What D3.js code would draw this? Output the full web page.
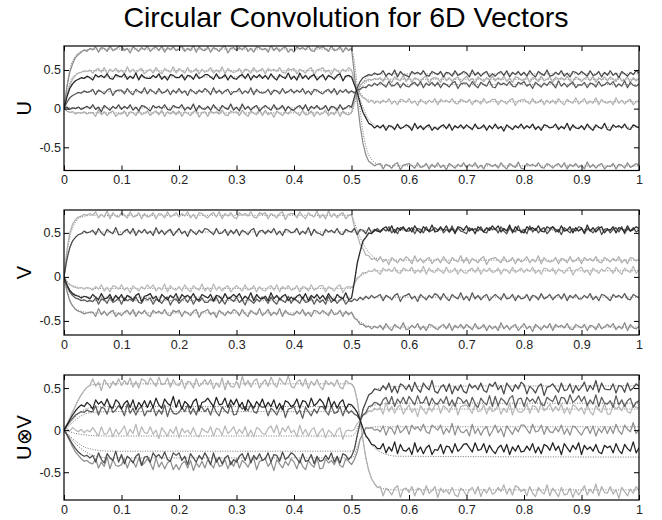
<!DOCTYPE html>
<html>
<head>
<meta charset="utf-8">
<script src="https://cdn.jsdelivr.net/npm/d3@7"></script>
<style>
  body { margin: 0; background: #fff; }
  svg { display: block; }
</style>
</head>
<body>
<script>
/*** Data ***/

// sample times (s), one sample every 0.005
const times = [
  0,0.005,0.01,0.015,0.02,0.025,0.03,0.035,0.04,0.045,
  0.05,0.055,0.06,0.065,0.07,0.075,0.08,0.085,0.09,0.095,
  0.1,0.105,0.11,0.115,0.12,0.125,0.13,0.135,0.14,0.145,
  0.15,0.155,0.16,0.165,0.17,0.175,0.18,0.185,0.19,0.195,
  0.2,0.205,0.21,0.215,0.22,0.225,0.23,0.235,0.24,0.245,
  0.25,0.255,0.26,0.265,0.27,0.275,0.28,0.285,0.29,0.295,
  0.3,0.305,0.31,0.315,0.32,0.325,0.33,0.335,0.34,0.345,
  0.35,0.355,0.36,0.365,0.37,0.375,0.38,0.385,0.39,0.395,
  0.4,0.405,0.41,0.415,0.42,0.425,0.43,0.435,0.44,0.445,
  0.45,0.455,0.46,0.465,0.47,0.475,0.48,0.485,0.49,0.495,
  0.5,0.505,0.51,0.515,0.52,0.525,0.53,0.535,0.54,0.545,
  0.55,0.555,0.56,0.565,0.57,0.575,0.58,0.585,0.59,0.595,
  0.6,0.605,0.61,0.615,0.62,0.625,0.63,0.635,0.64,0.645,
  0.65,0.655,0.66,0.665,0.67,0.675,0.68,0.685,0.69,0.695,
  0.7,0.705,0.71,0.715,0.72,0.725,0.73,0.735,0.74,0.745,
  0.75,0.755,0.76,0.765,0.77,0.775,0.78,0.785,0.79,0.795,
  0.8,0.805,0.81,0.815,0.82,0.825,0.83,0.835,0.84,0.845,
  0.85,0.855,0.86,0.865,0.87,0.875,0.88,0.885,0.89,0.895,
  0.9,0.905,0.91,0.915,0.92,0.925,0.93,0.935,0.94,0.945,
  0.95,0.955,0.96,0.965,0.97,0.975,0.98,0.985,0.99,0.995,
  1
]

// knots of the thin dotted (ideal) curves
const idealTimes = [0, 0.01, 0.02, 0.03, 0.05, 0.08, 0.5, 0.505, 0.51, 0.52, 0.53, 0.55, 0.58, 1]

const xTickValues = [0, 0.1, 0.2, 0.3, 0.4, 0.5, 0.6, 0.7, 0.8, 0.9, 1]
const xTickLabels = ["0", "0.1", "0.2", "0.3", "0.4", "0.5", "0.6", "0.7", "0.8", "0.9", "1"]
const yTickValues = [-0.5, 0, 0.5]
const yTickLabels = ["-0.5", "0", "0.5"]

/* U */
const u1 = [
  0,0.28,0.47,0.58,0.66,0.7,0.73,0.76,0.74,0.78,
  0.76,0.8,0.73,0.79,0.78,0.74,0.81,0.75,0.77,0.8,
  0.81,0.75,0.78,0.72,0.8,0.77,0.74,0.79,0.76,0.81,
  0.74,0.78,0.8,0.75,0.81,0.73,0.79,0.76,0.8,0.75,
  0.77,0.81,0.74,0.78,0.75,0.82,0.73,0.8,0.76,0.75,
  0.8,0.73,0.79,0.77,0.74,0.79,0.81,0.72,0.78,0.79,
  0.75,0.79,0.76,0.81,0.74,0.78,0.73,0.8,0.79,0.76,
  0.78,0.73,0.82,0.75,0.79,0.74,0.78,0.8,0.73,0.77,
  0.73,0.8,0.77,0.79,0.76,0.81,0.75,0.74,0.8,0.78,
  0.8,0.77,0.74,0.81,0.75,0.76,0.8,0.73,0.79,0.75,
  0.78,0.45,0.1,-0.22,-0.45,-0.6,-0.68,-0.71,-0.74,-0.72,
  -0.71,-0.78,-0.72,-0.74,-0.77,-0.72,-0.7,-0.79,-0.73,-0.72,
  -0.71,-0.74,-0.77,-0.7,-0.76,-0.75,-0.71,-0.78,-0.72,-0.76,
  -0.7,-0.76,-0.73,-0.79,-0.71,-0.74,-0.77,-0.72,-0.75,-0.7,
  -0.76,-0.72,-0.75,-0.7,-0.77,-0.73,-0.78,-0.71,-0.72,-0.75,
  -0.72,-0.77,-0.7,-0.75,-0.78,-0.71,-0.74,-0.76,-0.69,-0.77,
  -0.78,-0.71,-0.74,-0.72,-0.75,-0.7,-0.76,-0.77,-0.71,-0.73,
  -0.77,-0.73,-0.71,-0.76,-0.7,-0.78,-0.72,-0.75,-0.71,-0.76,
  -0.73,-0.78,-0.69,-0.76,-0.72,-0.77,-0.73,-0.71,-0.78,-0.74,
  -0.75,-0.71,-0.78,-0.72,-0.73,-0.77,-0.7,-0.76,-0.74,-0.71,
  -0.73
]
const u2 = [
  0,0.18,0.3,0.38,0.43,0.46,0.47,0.49,0.48,0.5,
  0.46,0.5,0.52,0.47,0.53,0.45,0.51,0.48,0.52,0.47,
  0.5,0.45,0.54,0.47,0.51,0.46,0.5,0.52,0.45,0.49,
  0.51,0.46,0.53,0.48,0.45,0.52,0.49,0.47,0.54,0.46,
  0.52,0.49,0.46,0.53,0.47,0.48,0.52,0.45,0.51,0.47,
  0.49,0.53,0.46,0.5,0.47,0.54,0.45,0.52,0.48,0.47,
  0.48,0.52,0.45,0.51,0.5,0.46,0.53,0.47,0.49,0.52,
  0.45,0.52,0.49,0.51,0.48,0.53,0.47,0.46,0.52,0.5,
  0.52,0.45,0.51,0.49,0.46,0.51,0.53,0.44,0.5,0.51,
  0.53,0.47,0.5,0.44,0.52,0.49,0.46,0.51,0.48,0.53,
  0.5,0.36,0.25,0.18,0.14,0.12,0.08,0.11,0.07,0.1,
  0.07,0.11,0.08,0.13,0.06,0.1,0.05,0.12,0.11,0.08,
  0.13,0.07,0.1,0.04,0.12,0.09,0.06,0.11,0.08,0.13,
  0.05,0.12,0.09,0.11,0.08,0.13,0.07,0.06,0.12,0.1,
  0.08,0.12,0.05,0.11,0.1,0.06,0.13,0.07,0.09,0.12,
  0.12,0.05,0.11,0.09,0.06,0.11,0.13,0.04,0.1,0.11,
  0.12,0.09,0.06,0.13,0.07,0.08,0.12,0.05,0.11,0.07,
  0.11,0.06,0.13,0.08,0.05,0.12,0.09,0.07,0.14,0.06,
  0.09,0.13,0.06,0.1,0.07,0.14,0.05,0.12,0.08,0.07,
  0.1,0.05,0.14,0.07,0.11,0.06,0.1,0.12,0.05,0.09,
  0.1
]
const u3 = [
  0,0.15,0.26,0.32,0.36,0.38,0.4,0.39,0.42,0.4,
  0.37,0.44,0.41,0.43,0.4,0.45,0.39,0.38,0.44,0.42,
  0.41,0.45,0.38,0.42,0.39,0.46,0.37,0.44,0.4,0.39,
  0.39,0.43,0.4,0.45,0.38,0.42,0.37,0.44,0.43,0.4,
  0.4,0.44,0.37,0.43,0.42,0.38,0.45,0.39,0.41,0.44,
  0.44,0.41,0.38,0.45,0.39,0.4,0.44,0.37,0.43,0.39,
  0.38,0.42,0.44,0.39,0.45,0.37,0.43,0.4,0.44,0.39,
  0.43,0.38,0.45,0.4,0.37,0.44,0.41,0.39,0.46,0.38,
  0.42,0.37,0.46,0.39,0.43,0.38,0.42,0.44,0.37,0.41,
  0.44,0.37,0.43,0.41,0.38,0.43,0.45,0.36,0.42,0.43,
  0.41,0.31,0.21,0.07,-0.05,-0.12,-0.19,-0.21,-0.25,-0.22,
  -0.25,-0.21,-0.28,-0.22,-0.23,-0.27,-0.2,-0.26,-0.24,-0.21,
  -0.23,-0.28,-0.19,-0.26,-0.22,-0.27,-0.23,-0.21,-0.28,-0.24,
  -0.27,-0.23,-0.21,-0.26,-0.2,-0.28,-0.22,-0.25,-0.21,-0.26,
  -0.21,-0.24,-0.27,-0.2,-0.26,-0.25,-0.21,-0.28,-0.22,-0.26,
  -0.2,-0.26,-0.23,-0.29,-0.21,-0.24,-0.27,-0.22,-0.25,-0.2,
  -0.26,-0.22,-0.25,-0.2,-0.27,-0.23,-0.28,-0.21,-0.22,-0.25,
  -0.24,-0.2,-0.27,-0.23,-0.26,-0.19,-0.28,-0.21,-0.25,-0.26,
  -0.22,-0.27,-0.2,-0.25,-0.28,-0.21,-0.24,-0.26,-0.19,-0.27,
  -0.28,-0.21,-0.24,-0.22,-0.25,-0.2,-0.26,-0.27,-0.21,-0.23,
  -0.25
]
const u4 = [
  0,0.08,0.14,0.17,0.19,0.21,0.2,0.23,0.21,0.22,
  0.25,0.18,0.24,0.22,0.19,0.24,0.26,0.17,0.23,0.24,
  0.24,0.19,0.26,0.21,0.18,0.25,0.22,0.2,0.27,0.19,
  0.25,0.22,0.19,0.26,0.2,0.21,0.25,0.18,0.24,0.2,
  0.26,0.2,0.23,0.17,0.25,0.22,0.19,0.24,0.21,0.26,
  0.23,0.18,0.27,0.2,0.24,0.19,0.23,0.25,0.18,0.22,
  0.22,0.26,0.19,0.23,0.2,0.27,0.18,0.25,0.21,0.2,
  0.21,0.25,0.18,0.24,0.23,0.19,0.26,0.2,0.22,0.25,
  0.2,0.24,0.21,0.26,0.19,0.23,0.18,0.25,0.24,0.21,
  0.19,0.23,0.25,0.2,0.26,0.18,0.24,0.21,0.25,0.2,
  0.23,0.2,0.24,0.25,0.28,0.27,0.31,0.29,0.33,0.3,
  0.34,0.31,0.28,0.35,0.29,0.3,0.34,0.27,0.33,0.29,
  0.28,0.32,0.34,0.29,0.35,0.27,0.33,0.3,0.34,0.29,
  0.34,0.27,0.33,0.31,0.28,0.33,0.35,0.26,0.32,0.33,
  0.33,0.28,0.35,0.3,0.27,0.34,0.31,0.29,0.36,0.28,
  0.27,0.34,0.31,0.33,0.3,0.35,0.29,0.28,0.34,0.32,
  0.35,0.29,0.32,0.26,0.34,0.31,0.28,0.33,0.3,0.35,
  0.32,0.27,0.36,0.29,0.33,0.28,0.32,0.34,0.27,0.31,
  0.3,0.34,0.27,0.33,0.32,0.28,0.35,0.29,0.31,0.34,
  0.31,0.35,0.28,0.32,0.29,0.36,0.27,0.34,0.3,0.29,
  0.32
]
const u5 = [
  0,0.02,-0.01,0.01,0,0.02,-0.01,0.01,0.03,0,
  0.05,-0.01,0.02,-0.04,0.04,0.01,-0.02,0.03,0,0.05,
  -0.01,0.03,0,0.05,-0.02,0.02,-0.03,0.04,0.03,0,
  -0.03,0.04,0.01,0.03,0,0.05,-0.01,-0.02,0.04,0.02,
  0.01,0.05,-0.02,0.02,-0.01,0.06,-0.03,0.04,0,-0.01,
  0.03,-0.02,0.05,0,-0.03,0.04,0.01,-0.01,0.06,-0.02,
  0.02,-0.03,0.06,-0.01,0.03,-0.02,0.02,0.04,-0.03,0.01,
  0.04,0.01,-0.02,0.05,-0.01,0,0.04,-0.03,0.03,-0.01,
  -0.02,0.02,0.04,-0.01,0.05,-0.03,0.03,0,0.04,-0.01,
  0,0.04,-0.03,0.03,0.02,-0.02,0.05,-0.01,0.01,0.04,
  0.02,0.15,0.27,0.35,0.4,0.42,0.44,0.43,0.46,0.44,
  0.45,0.49,0.42,0.46,0.43,0.5,0.41,0.48,0.44,0.43,
  0.41,0.48,0.45,0.47,0.44,0.49,0.43,0.42,0.48,0.46,
  0.44,0.48,0.41,0.47,0.46,0.42,0.49,0.43,0.45,0.48,
  0.46,0.41,0.5,0.43,0.47,0.42,0.46,0.48,0.41,0.45,
  0.42,0.46,0.48,0.43,0.49,0.41,0.47,0.44,0.48,0.43,
  0.47,0.42,0.49,0.44,0.41,0.48,0.45,0.43,0.5,0.42,
  0.43,0.47,0.44,0.49,0.42,0.46,0.41,0.48,0.47,0.44,
  0.48,0.45,0.42,0.49,0.43,0.44,0.48,0.41,0.47,0.43,
  0.49,0.43,0.46,0.4,0.48,0.45,0.42,0.47,0.44,0.49,
  0.46
]
const u6 = [
  0,-0.03,-0.05,-0.04,-0.07,-0.05,-0.06,-0.04,-0.07,-0.05,
  -0.05,-0.1,-0.01,-0.08,-0.04,-0.09,-0.05,-0.03,-0.1,-0.06,
  -0.07,-0.03,-0.1,-0.04,-0.05,-0.09,-0.02,-0.08,-0.06,-0.03,
  -0.09,-0.05,-0.03,-0.08,-0.02,-0.1,-0.04,-0.07,-0.03,-0.08,
  -0.03,-0.1,-0.04,-0.06,-0.09,-0.04,-0.02,-0.11,-0.05,-0.04,
  -0.1,-0.03,-0.06,-0.04,-0.07,-0.02,-0.08,-0.09,-0.03,-0.05,
  -0.04,-0.09,-0.02,-0.07,-0.1,-0.03,-0.06,-0.08,-0.01,-0.09,
  -0.02,-0.08,-0.05,-0.11,-0.03,-0.06,-0.09,-0.04,-0.07,-0.02,
  -0.03,-0.06,-0.09,-0.02,-0.08,-0.07,-0.03,-0.1,-0.04,-0.08,
  -0.06,-0.02,-0.09,-0.05,-0.08,-0.01,-0.1,-0.03,-0.07,-0.08,
  -0.05,0.1,0.22,0.3,0.34,0.36,0.38,0.37,0.39,0.38,
  0.4,0.35,0.42,0.37,0.34,0.41,0.38,0.36,0.43,0.35,
  0.41,0.34,0.4,0.38,0.35,0.4,0.42,0.33,0.39,0.4,
  0.39,0.34,0.43,0.36,0.4,0.35,0.39,0.41,0.34,0.38,
  0.42,0.36,0.39,0.33,0.41,0.38,0.35,0.4,0.37,0.42,
  0.36,0.4,0.37,0.42,0.35,0.39,0.34,0.41,0.4,0.37,
  0.37,0.41,0.34,0.4,0.39,0.35,0.42,0.36,0.38,0.41,
  0.34,0.41,0.38,0.4,0.37,0.42,0.36,0.35,0.41,0.39,
  0.35,0.39,0.41,0.36,0.42,0.34,0.4,0.37,0.41,0.36,
  0.41,0.38,0.35,0.42,0.36,0.37,0.41,0.34,0.4,0.36,
  0.39
]
const uIdeal = [
  [0,0.5,0.68,0.74,0.77,0.77,0.77,0.6,0.3,-0.3,-0.6,-0.73,-0.74,-0.74],
  [0,0.33,0.44,0.47,0.49,0.49,0.49,0.38,0.28,0.16,0.11,0.09,0.09,0.09],
  [0,0.27,0.36,0.39,0.41,0.41,0.41,0.33,0.22,0.02,-0.14,-0.23,-0.24,-0.24],
  [0,0.14,0.19,0.21,0.22,0.22,0.22,0.22,0.23,0.27,0.3,0.31,0.31,0.31],
  [0,0.01,0.01,0.01,0.01,0.01,0.01,0.1,0.2,0.34,0.42,0.45,0.45,0.45],
  [0,-0.04,-0.05,-0.055,-0.055,-0.055,-0.055,0.05,0.16,0.3,0.36,0.38,0.38,0.38]
]

/* V */
const v1 = [
  0,0.3,0.5,0.6,0.65,0.68,0.69,0.71,0.7,0.72,
  0.7,0.74,0.67,0.71,0.68,0.75,0.66,0.73,0.69,0.68,
  0.73,0.7,0.67,0.74,0.68,0.69,0.73,0.66,0.72,0.68,
  0.69,0.73,0.66,0.72,0.71,0.67,0.74,0.68,0.7,0.73,
  0.68,0.72,0.69,0.74,0.67,0.71,0.66,0.73,0.72,0.69,
  0.67,0.71,0.73,0.68,0.74,0.66,0.72,0.69,0.73,0.68,
  0.66,0.73,0.7,0.72,0.69,0.74,0.68,0.67,0.73,0.71,
  0.73,0.66,0.72,0.7,0.67,0.72,0.74,0.65,0.71,0.72,
  0.72,0.67,0.74,0.69,0.66,0.73,0.7,0.68,0.75,0.67,
  0.71,0.66,0.75,0.68,0.72,0.67,0.71,0.73,0.66,0.7,
  0.71,0.57,0.48,0.37,0.32,0.25,0.24,0.2,0.21,0.18,
  0.23,0.17,0.2,0.14,0.22,0.19,0.16,0.21,0.18,0.23,
  0.2,0.15,0.24,0.17,0.21,0.16,0.2,0.22,0.15,0.19,
  0.21,0.16,0.23,0.18,0.15,0.22,0.19,0.17,0.24,0.16,
  0.22,0.15,0.21,0.19,0.16,0.21,0.23,0.14,0.2,0.21,
  0.22,0.19,0.16,0.23,0.17,0.18,0.22,0.15,0.21,0.17,
  0.19,0.23,0.16,0.2,0.17,0.24,0.15,0.22,0.18,0.17,
  0.18,0.22,0.15,0.21,0.2,0.16,0.23,0.17,0.19,0.22,
  0.15,0.22,0.19,0.21,0.18,0.23,0.17,0.16,0.22,0.2,
  0.17,0.21,0.18,0.23,0.16,0.2,0.15,0.22,0.21,0.18,
  0.2
]
const v2 = [
  0,0.2,0.33,0.41,0.45,0.48,0.49,0.52,0.5,0.51,
  0.53,0.48,0.55,0.5,0.47,0.54,0.51,0.49,0.56,0.48,
  0.48,0.52,0.54,0.49,0.55,0.47,0.53,0.5,0.54,0.49,
  0.52,0.47,0.56,0.49,0.53,0.48,0.52,0.54,0.47,0.51,
  0.55,0.49,0.52,0.46,0.54,0.51,0.48,0.53,0.5,0.55,
  0.54,0.51,0.48,0.55,0.49,0.5,0.54,0.47,0.53,0.49,
  0.54,0.47,0.53,0.51,0.48,0.53,0.55,0.46,0.52,0.53,
  0.49,0.53,0.5,0.55,0.48,0.52,0.47,0.54,0.53,0.5,
  0.51,0.55,0.48,0.52,0.49,0.56,0.47,0.54,0.5,0.49,
  0.47,0.54,0.51,0.53,0.5,0.55,0.49,0.48,0.54,0.52,
  0.51,0.55,0.48,0.54,0.53,0.49,0.56,0.5,0.52,0.55,
  0.51,0.55,0.52,0.57,0.5,0.54,0.49,0.56,0.55,0.52,
  0.52,0.56,0.49,0.55,0.54,0.5,0.57,0.51,0.53,0.56,
  0.53,0.57,0.5,0.54,0.51,0.58,0.49,0.56,0.52,0.51,
  0.49,0.56,0.53,0.55,0.52,0.57,0.51,0.5,0.56,0.54,
  0.55,0.5,0.57,0.52,0.49,0.56,0.53,0.51,0.58,0.5,
  0.54,0.49,0.58,0.51,0.55,0.5,0.54,0.56,0.49,0.53,
  0.57,0.51,0.54,0.48,0.56,0.53,0.5,0.55,0.52,0.57,
  0.56,0.49,0.55,0.53,0.5,0.55,0.57,0.48,0.54,0.55,
  0.5,0.54,0.56,0.51,0.57,0.49,0.55,0.52,0.56,0.51,
  0.53
]
const v3 = [
  0,-0.06,-0.09,-0.11,-0.12,-0.13,-0.12,-0.14,-0.12,-0.13,
  -0.15,-0.11,-0.14,-0.09,-0.16,-0.12,-0.17,-0.1,-0.11,-0.14,
  -0.09,-0.15,-0.12,-0.18,-0.1,-0.13,-0.16,-0.11,-0.14,-0.09,
  -0.13,-0.09,-0.16,-0.12,-0.15,-0.08,-0.17,-0.1,-0.14,-0.15,
  -0.11,-0.16,-0.09,-0.14,-0.17,-0.1,-0.13,-0.15,-0.08,-0.16,
  -0.12,-0.17,-0.08,-0.15,-0.11,-0.16,-0.12,-0.1,-0.17,-0.13,
  -0.1,-0.13,-0.16,-0.09,-0.15,-0.14,-0.1,-0.17,-0.11,-0.15,
  -0.16,-0.12,-0.1,-0.15,-0.09,-0.17,-0.11,-0.14,-0.1,-0.15,
  -0.14,-0.1,-0.17,-0.11,-0.12,-0.16,-0.09,-0.15,-0.13,-0.1,
  -0.1,-0.17,-0.11,-0.13,-0.16,-0.11,-0.09,-0.18,-0.12,-0.11,
  -0.12,-0.08,-0.01,0.01,0.05,0.04,0.07,0.06,0.09,0.06,
  0.03,0.1,0.07,0.09,0.06,0.11,0.05,0.04,0.1,0.08,
  0.07,0.11,0.04,0.08,0.05,0.12,0.03,0.1,0.06,0.05,
  0.1,0.07,0.04,0.11,0.05,0.06,0.1,0.03,0.09,0.05,
  0.04,0.08,0.1,0.05,0.11,0.03,0.09,0.06,0.1,0.05,
  0.06,0.1,0.03,0.09,0.08,0.04,0.11,0.05,0.07,0.1,
  0.05,0.09,0.06,0.11,0.04,0.08,0.03,0.1,0.09,0.06,
  0.1,0.03,0.09,0.07,0.04,0.09,0.11,0.02,0.08,0.09,
  0.11,0.05,0.08,0.02,0.1,0.07,0.04,0.09,0.06,0.11,
  0.09,0.04,0.11,0.06,0.03,0.1,0.07,0.05,0.12,0.04,
  0.08
]
const v4 = [
  0,-0.09,-0.15,-0.19,-0.21,-0.22,-0.24,-0.22,-0.23,-0.25,
  -0.2,-0.23,-0.26,-0.19,-0.25,-0.24,-0.2,-0.27,-0.21,-0.25,
  -0.2,-0.27,-0.21,-0.23,-0.26,-0.21,-0.19,-0.28,-0.22,-0.21,
  -0.19,-0.25,-0.22,-0.28,-0.2,-0.23,-0.26,-0.21,-0.24,-0.19,
  -0.27,-0.2,-0.23,-0.21,-0.24,-0.19,-0.25,-0.26,-0.2,-0.22,
  -0.24,-0.2,-0.27,-0.21,-0.22,-0.26,-0.19,-0.25,-0.23,-0.2,
  -0.23,-0.19,-0.26,-0.22,-0.25,-0.18,-0.27,-0.2,-0.24,-0.25,
  -0.22,-0.27,-0.18,-0.25,-0.21,-0.26,-0.22,-0.2,-0.27,-0.23,
  -0.26,-0.22,-0.2,-0.25,-0.19,-0.27,-0.21,-0.24,-0.2,-0.25,
  -0.21,-0.26,-0.19,-0.24,-0.27,-0.2,-0.23,-0.25,-0.18,-0.26,
  -0.24,-0.06,0.16,0.29,0.41,0.45,0.5,0.49,0.54,0.52,
  0.51,0.55,0.57,0.52,0.58,0.5,0.56,0.53,0.57,0.52,
  0.56,0.51,0.58,0.53,0.5,0.57,0.54,0.52,0.59,0.51,
  0.52,0.56,0.53,0.58,0.51,0.55,0.5,0.57,0.56,0.53,
  0.58,0.52,0.55,0.49,0.57,0.54,0.51,0.56,0.53,0.58,
  0.54,0.58,0.51,0.55,0.52,0.59,0.5,0.57,0.53,0.52,
  0.5,0.57,0.54,0.56,0.53,0.58,0.52,0.51,0.57,0.55,
  0.57,0.54,0.51,0.58,0.52,0.53,0.57,0.5,0.56,0.52,
  0.55,0.5,0.59,0.52,0.56,0.51,0.55,0.57,0.5,0.54,
  0.53,0.57,0.5,0.56,0.55,0.51,0.58,0.52,0.54,0.57,
  0.55
]
const v5 = [
  0,-0.1,-0.17,-0.21,-0.24,-0.25,-0.27,-0.26,-0.28,-0.27,
  -0.28,-0.24,-0.31,-0.25,-0.26,-0.3,-0.23,-0.29,-0.27,-0.24,
  -0.31,-0.24,-0.27,-0.25,-0.28,-0.23,-0.29,-0.3,-0.24,-0.26,
  -0.24,-0.31,-0.25,-0.27,-0.3,-0.25,-0.23,-0.32,-0.26,-0.25,
  -0.3,-0.26,-0.24,-0.29,-0.23,-0.31,-0.25,-0.28,-0.24,-0.29,
  -0.29,-0.25,-0.28,-0.23,-0.3,-0.26,-0.31,-0.24,-0.25,-0.28,
  -0.23,-0.29,-0.26,-0.32,-0.24,-0.27,-0.3,-0.25,-0.28,-0.23,
  -0.25,-0.3,-0.23,-0.28,-0.31,-0.24,-0.27,-0.29,-0.22,-0.3,
  -0.24,-0.27,-0.3,-0.23,-0.29,-0.28,-0.24,-0.31,-0.25,-0.29,
  -0.26,-0.31,-0.22,-0.29,-0.25,-0.3,-0.26,-0.24,-0.31,-0.27,
  -0.28,-0.25,-0.27,-0.23,-0.26,-0.22,-0.25,-0.21,-0.24,-0.22,
  -0.2,-0.27,-0.21,-0.23,-0.26,-0.21,-0.19,-0.28,-0.22,-0.21,
  -0.19,-0.25,-0.22,-0.28,-0.2,-0.23,-0.26,-0.21,-0.24,-0.19,
  -0.21,-0.26,-0.19,-0.24,-0.27,-0.2,-0.23,-0.25,-0.18,-0.26,
  -0.22,-0.27,-0.18,-0.25,-0.21,-0.26,-0.22,-0.2,-0.27,-0.23,
  -0.2,-0.23,-0.26,-0.19,-0.25,-0.24,-0.2,-0.27,-0.21,-0.25,
  -0.24,-0.2,-0.27,-0.21,-0.22,-0.26,-0.19,-0.25,-0.23,-0.2,
  -0.26,-0.22,-0.2,-0.25,-0.19,-0.27,-0.21,-0.24,-0.2,-0.25,
  -0.25,-0.21,-0.24,-0.19,-0.26,-0.22,-0.27,-0.2,-0.21,-0.24,
  -0.27,-0.2,-0.23,-0.21,-0.24,-0.19,-0.25,-0.26,-0.2,-0.22,
  -0.24
]
const v6 = [
  0,-0.16,-0.27,-0.33,-0.37,-0.39,-0.4,-0.42,-0.41,-0.4,
  -0.4,-0.45,-0.36,-0.43,-0.39,-0.44,-0.4,-0.38,-0.45,-0.41,
  -0.44,-0.4,-0.38,-0.43,-0.37,-0.45,-0.39,-0.42,-0.38,-0.43,
  -0.45,-0.38,-0.41,-0.39,-0.42,-0.37,-0.43,-0.44,-0.38,-0.4,
  -0.38,-0.45,-0.39,-0.41,-0.44,-0.39,-0.37,-0.46,-0.4,-0.39,
  -0.37,-0.43,-0.4,-0.46,-0.38,-0.41,-0.44,-0.39,-0.42,-0.37,
  -0.39,-0.44,-0.37,-0.42,-0.45,-0.38,-0.41,-0.43,-0.36,-0.44,
  -0.41,-0.37,-0.44,-0.4,-0.43,-0.36,-0.45,-0.38,-0.42,-0.43,
  -0.43,-0.39,-0.42,-0.37,-0.44,-0.4,-0.45,-0.38,-0.39,-0.42,
  -0.38,-0.41,-0.44,-0.37,-0.43,-0.42,-0.38,-0.45,-0.39,-0.43,
  -0.4,-0.47,-0.49,-0.54,-0.54,-0.57,-0.56,-0.59,-0.56,-0.58,
  -0.55,-0.6,-0.53,-0.58,-0.61,-0.54,-0.57,-0.59,-0.52,-0.6,
  -0.59,-0.55,-0.58,-0.53,-0.6,-0.56,-0.61,-0.54,-0.55,-0.58,
  -0.6,-0.56,-0.54,-0.59,-0.53,-0.61,-0.55,-0.58,-0.54,-0.59,
  -0.54,-0.57,-0.6,-0.53,-0.59,-0.58,-0.54,-0.61,-0.55,-0.59,
  -0.56,-0.61,-0.52,-0.59,-0.55,-0.6,-0.56,-0.54,-0.61,-0.57,
  -0.53,-0.59,-0.56,-0.62,-0.54,-0.57,-0.6,-0.55,-0.58,-0.53,
  -0.61,-0.54,-0.57,-0.55,-0.58,-0.53,-0.59,-0.6,-0.54,-0.56,
  -0.58,-0.54,-0.61,-0.55,-0.56,-0.6,-0.53,-0.59,-0.57,-0.54,
  -0.57,-0.53,-0.6,-0.56,-0.59,-0.52,-0.61,-0.54,-0.58,-0.59,
  -0.56
]
const vIdeal = [
  [0,0.45,0.62,0.68,0.7,0.7,0.7,0.62,0.53,0.38,0.28,0.2,0.19,0.19],
  [0,0.33,0.45,0.49,0.51,0.51,0.51,0.51,0.52,0.52,0.53,0.53,0.53,0.53],
  [0,-0.08,-0.11,-0.125,-0.13,-0.13,-0.13,-0.08,-0.03,0.03,0.06,0.07,0.07,0.07],
  [0,-0.15,-0.2,-0.22,-0.23,-0.23,-0.23,-0.05,0.13,0.38,0.48,0.53,0.54,0.54],
  [0,-0.18,-0.24,-0.26,-0.27,-0.27,-0.27,-0.26,-0.25,-0.24,-0.23,-0.23,-0.23,-0.23],
  [0,-0.27,-0.36,-0.39,-0.41,-0.41,-0.41,-0.45,-0.49,-0.53,-0.56,-0.57,-0.57,-0.57]
]

/* U (x) V */
const uv1 = [
  0,0.07,0.14,0.22,0.29,0.36,0.42,0.47,0.51,0.53,
  0.61,0.52,0.57,0.47,0.6,0.55,0.5,0.58,0.53,0.61,
  0.53,0.59,0.54,0.62,0.51,0.58,0.5,0.61,0.59,0.54,
  0.62,0.57,0.52,0.63,0.54,0.55,0.62,0.51,0.6,0.54,
  0.53,0.6,0.49,0.58,0.57,0.5,0.61,0.52,0.55,0.6,
  0.54,0.6,0.49,0.56,0.51,0.62,0.48,0.59,0.52,0.51,
  0.58,0.5,0.64,0.53,0.59,0.51,0.58,0.61,0.5,0.56,
  0.6,0.52,0.63,0.55,0.51,0.62,0.57,0.54,0.65,0.52,
  0.5,0.57,0.6,0.52,0.61,0.49,0.58,0.53,0.6,0.52,
  0.48,0.59,0.54,0.57,0.52,0.6,0.51,0.49,0.59,0.56,
  0.55,0.5,0.35,0.12,-0.12,-0.33,-0.48,-0.58,-0.64,-0.68,
  -0.67,-0.78,-0.69,-0.72,-0.77,-0.69,-0.66,-0.8,-0.7,-0.69,
  -0.74,-0.67,-0.78,-0.69,-0.7,-0.77,-0.66,-0.75,-0.72,-0.67,
  -0.8,-0.69,-0.74,-0.71,-0.76,-0.68,-0.77,-0.79,-0.69,-0.72,
  -0.78,-0.71,-0.68,-0.76,-0.67,-0.79,-0.7,-0.75,-0.68,-0.76,
  -0.74,-0.68,-0.73,-0.65,-0.76,-0.69,-0.77,-0.66,-0.68,-0.73,
  -0.7,-0.78,-0.67,-0.75,-0.79,-0.68,-0.73,-0.76,-0.65,-0.78,
  -0.69,-0.74,-0.79,-0.68,-0.77,-0.76,-0.69,-0.8,-0.71,-0.77,
  -0.72,-0.66,-0.77,-0.7,-0.75,-0.64,-0.78,-0.67,-0.74,-0.75,
  -0.67,-0.76,-0.71,-0.81,-0.68,-0.73,-0.78,-0.7,-0.75,-0.67,
  -0.72
]
const uv2 = [
  0,0.06,0.12,0.18,0.23,0.27,0.3,0.28,0.33,0.3,
  0.25,0.36,0.31,0.34,0.29,0.37,0.28,0.26,0.36,0.33,
  0.25,0.32,0.35,0.27,0.36,0.24,0.33,0.28,0.35,0.27,
  0.35,0.27,0.38,0.3,0.26,0.37,0.32,0.29,0.4,0.27,
  0.36,0.25,0.34,0.31,0.26,0.34,0.37,0.23,0.33,0.34,
  0.38,0.33,0.28,0.39,0.3,0.31,0.38,0.27,0.36,0.3,
  0.37,0.28,0.33,0.23,0.36,0.31,0.26,0.34,0.29,0.37,
  0.27,0.33,0.28,0.36,0.25,0.32,0.24,0.35,0.33,0.28,
  0.3,0.37,0.26,0.35,0.34,0.27,0.38,0.29,0.32,0.37,
  0.33,0.25,0.39,0.28,0.34,0.26,0.33,0.36,0.25,0.31,
  0.3,0.26,0.21,0.12,0.02,-0.07,-0.11,-0.17,-0.18,-0.22,
  -0.22,-0.16,-0.27,-0.2,-0.25,-0.14,-0.28,-0.17,-0.24,-0.25,
  -0.21,-0.29,-0.15,-0.26,-0.2,-0.28,-0.21,-0.18,-0.29,-0.23,
  -0.24,-0.17,-0.28,-0.19,-0.2,-0.27,-0.16,-0.25,-0.22,-0.17,
  -0.16,-0.21,-0.26,-0.15,-0.24,-0.23,-0.16,-0.27,-0.18,-0.24,
  -0.28,-0.21,-0.18,-0.26,-0.17,-0.29,-0.2,-0.25,-0.18,-0.26,
  -0.25,-0.19,-0.24,-0.16,-0.27,-0.2,-0.28,-0.17,-0.19,-0.24,
  -0.15,-0.24,-0.19,-0.29,-0.16,-0.21,-0.26,-0.18,-0.23,-0.15,
  -0.29,-0.18,-0.23,-0.2,-0.25,-0.17,-0.26,-0.28,-0.18,-0.21,
  -0.19,-0.27,-0.16,-0.24,-0.28,-0.17,-0.22,-0.25,-0.14,-0.27,
  -0.21
]
const uv3 = [
  0,0.05,0.1,0.14,0.18,0.2,0.22,0.21,0.24,0.22,
  0.22,0.29,0.18,0.27,0.26,0.19,0.3,0.21,0.24,0.29,
  0.25,0.17,0.31,0.2,0.26,0.18,0.25,0.28,0.17,0.23,
  0.22,0.28,0.17,0.24,0.19,0.3,0.16,0.27,0.2,0.19,
  0.21,0.27,0.22,0.3,0.19,0.26,0.18,0.29,0.27,0.22,
  0.26,0.18,0.29,0.21,0.17,0.28,0.23,0.2,0.31,0.18,
  0.19,0.3,0.25,0.28,0.23,0.31,0.22,0.2,0.3,0.27,
  0.28,0.17,0.26,0.23,0.18,0.26,0.29,0.15,0.25,0.26,
  0.28,0.19,0.24,0.14,0.27,0.22,0.17,0.25,0.2,0.28,
  0.28,0.23,0.18,0.29,0.2,0.21,0.28,0.17,0.26,0.2,
  0.23,0.19,0.17,0.12,0.18,0.21,0.28,0.29,0.33,0.32,
  0.29,0.36,0.39,0.31,0.4,0.28,0.37,0.32,0.39,0.31,
  0.4,0.35,0.3,0.41,0.32,0.33,0.4,0.29,0.38,0.32,
  0.31,0.37,0.32,0.4,0.29,0.36,0.28,0.39,0.37,0.32,
  0.36,0.28,0.39,0.31,0.27,0.38,0.33,0.3,0.41,0.28,
  0.4,0.29,0.38,0.35,0.3,0.38,0.41,0.27,0.37,0.38,
  0.28,0.39,0.34,0.37,0.32,0.4,0.31,0.29,0.39,0.36,
  0.34,0.41,0.3,0.39,0.38,0.31,0.42,0.33,0.36,0.41,
  0.34,0.4,0.29,0.36,0.31,0.42,0.28,0.39,0.32,0.31,
  0.35,0.27,0.41,0.3,0.36,0.28,0.35,0.38,0.27,0.33,
  0.35
]
const uv4 = [
  0,0.02,-0.01,0.03,0,-0.02,0.01,-0.03,0,-0.02,
  0.03,-0.02,-0.07,0.04,-0.05,-0.04,0.03,-0.08,0.01,-0.05,
  -0.01,0.05,-0.06,0.01,-0.04,0.07,-0.07,0.04,-0.03,-0.04,
  0.04,-0.05,0,-0.1,0.03,-0.02,-0.07,0.01,-0.04,0.04,
  -0.09,0.02,-0.03,0,-0.05,0.03,-0.06,-0.08,0.02,-0.01,
  -0.03,0.04,-0.07,0.02,0.01,-0.06,0.05,-0.04,-0.01,0.04,
  -0.05,0.01,-0.04,0.04,-0.07,0,-0.08,0.03,0.01,-0.04,
  -0.05,0.02,0.05,-0.03,0.06,-0.06,0.03,-0.02,0.05,-0.03,
  0,-0.08,0.06,-0.05,0.01,-0.07,0,0.03,-0.08,-0.02,
  0.02,-0.09,0,-0.03,-0.08,0,0.03,-0.11,-0.01,0,
  -0.01,0.01,0.08,0.11,0.18,0.19,0.23,0.22,0.26,0.24,
  0.27,0.19,0.33,0.22,0.28,0.2,0.27,0.3,0.19,0.25,
  0.3,0.21,0.26,0.16,0.29,0.24,0.19,0.27,0.22,0.3,
  0.31,0.2,0.29,0.26,0.21,0.29,0.32,0.18,0.28,0.29,
  0.3,0.25,0.2,0.31,0.22,0.23,0.3,0.19,0.28,0.22,
  0.24,0.3,0.19,0.26,0.21,0.32,0.18,0.29,0.22,0.21,
  0.24,0.31,0.2,0.29,0.28,0.21,0.32,0.23,0.26,0.31,
  0.22,0.28,0.23,0.31,0.2,0.27,0.19,0.3,0.28,0.23,
  0.27,0.19,0.3,0.22,0.18,0.29,0.24,0.21,0.32,0.19,
  0.19,0.3,0.25,0.28,0.23,0.31,0.22,0.2,0.3,0.27,
  0.26
]
const uv5 = [
  0,-0.05,-0.11,-0.17,-0.22,-0.26,-0.29,-0.31,-0.3,-0.33,
  -0.3,-0.38,-0.27,-0.35,-0.39,-0.28,-0.33,-0.36,-0.25,-0.38,
  -0.29,-0.4,-0.31,-0.34,-0.39,-0.31,-0.28,-0.42,-0.32,-0.31,
  -0.38,-0.27,-0.32,-0.29,-0.34,-0.26,-0.35,-0.37,-0.27,-0.3,
  -0.27,-0.36,-0.31,-0.41,-0.28,-0.33,-0.38,-0.3,-0.35,-0.27,
  -0.33,-0.41,-0.27,-0.38,-0.32,-0.4,-0.33,-0.3,-0.41,-0.35,
  -0.38,-0.31,-0.28,-0.36,-0.27,-0.39,-0.3,-0.35,-0.28,-0.36,
  -0.34,-0.27,-0.38,-0.29,-0.3,-0.37,-0.26,-0.35,-0.32,-0.27,
  -0.29,-0.34,-0.39,-0.28,-0.37,-0.36,-0.29,-0.4,-0.31,-0.37,
  -0.36,-0.3,-0.35,-0.27,-0.38,-0.31,-0.39,-0.28,-0.3,-0.35,
  -0.31,-0.23,-0.06,0.09,0.25,0.33,0.42,0.44,0.49,0.48,
  0.47,0.53,0.48,0.56,0.45,0.52,0.44,0.55,0.53,0.48,
  0.54,0.46,0.57,0.49,0.45,0.56,0.51,0.48,0.59,0.46,
  0.44,0.51,0.54,0.46,0.55,0.43,0.52,0.47,0.54,0.46,
  0.44,0.55,0.5,0.53,0.48,0.56,0.47,0.45,0.55,0.52,
  0.57,0.48,0.53,0.43,0.56,0.51,0.46,0.54,0.49,0.57,
  0.54,0.43,0.52,0.49,0.44,0.52,0.55,0.41,0.51,0.52,
  0.55,0.5,0.45,0.56,0.47,0.48,0.55,0.44,0.53,0.47,
  0.51,0.57,0.46,0.53,0.48,0.59,0.45,0.56,0.49,0.48,
  0.48,0.55,0.44,0.53,0.52,0.45,0.56,0.47,0.5,0.55,
  0.52
]
const uv6 = [
  0,-0.06,-0.13,-0.2,-0.26,-0.3,-0.34,-0.37,-0.36,-0.39,
  -0.4,-0.34,-0.45,-0.38,-0.43,-0.32,-0.46,-0.35,-0.42,-0.43,
  -0.41,-0.34,-0.45,-0.36,-0.37,-0.44,-0.33,-0.42,-0.39,-0.34,
  -0.39,-0.47,-0.33,-0.44,-0.38,-0.46,-0.39,-0.36,-0.47,-0.41,
  -0.47,-0.4,-0.37,-0.45,-0.36,-0.48,-0.39,-0.44,-0.37,-0.45,
  -0.35,-0.4,-0.45,-0.34,-0.43,-0.42,-0.35,-0.46,-0.37,-0.43,
  -0.34,-0.45,-0.36,-0.39,-0.44,-0.36,-0.33,-0.47,-0.37,-0.36,
  -0.34,-0.43,-0.38,-0.48,-0.35,-0.4,-0.45,-0.37,-0.42,-0.34,
  -0.38,-0.46,-0.35,-0.43,-0.47,-0.36,-0.41,-0.44,-0.33,-0.46,
  -0.45,-0.34,-0.39,-0.36,-0.41,-0.33,-0.42,-0.44,-0.34,-0.37,
  -0.41,-0.35,-0.26,-0.11,-0.04,0.03,0.02,0.03,0,0.01,
  -0.02,0.05,-0.06,0.03,0.02,-0.05,0.06,-0.03,0,0.05,
  -0.05,0.06,0.01,0.04,-0.01,0.07,-0.02,-0.04,0.06,0.03,
  0,0.06,-0.05,0.02,-0.03,0.08,-0.06,0.05,-0.02,-0.03,
  0.01,-0.07,0.07,-0.04,0.02,-0.06,0.01,0.04,-0.07,-0.01,
  0.06,-0.03,0.02,-0.08,0.05,0,-0.05,0.03,-0.02,0.06,
  0.06,0.01,-0.04,0.07,-0.02,-0.01,0.06,-0.05,0.04,-0.02,
  -0.03,0.03,-0.02,0.06,-0.05,0.02,-0.06,0.05,0.03,-0.02,
  -0.06,0.01,0.04,-0.04,0.05,-0.07,0.02,-0.03,0.04,-0.04,
  0.04,-0.04,0.07,-0.01,-0.05,0.06,0.01,-0.02,0.09,-0.04,
  0.01
]
const uvIdeal = [
  [0,0.14,0.29,0.42,0.54,0.55,0.55,0.5,0.35,-0.12,-0.48,-0.69,-0.71,-0.71],
  [0,0.08,0.16,0.22,0.27,0.28,0.28,0.26,0.21,0.03,-0.12,-0.26,-0.31,-0.32],
  [0,0.06,0.12,0.17,0.21,0.22,0.22,0.2,0.17,0.17,0.26,0.31,0.32,0.32],
  [0,-0.02,-0.04,-0.05,-0.065,-0.07,-0.07,-0.05,0.02,0.17,0.22,0.25,0.25,0.25],
  [0,-0.07,-0.13,-0.18,-0.23,-0.25,-0.25,-0.22,-0.07,0.24,0.41,0.5,0.52,0.527],
  [0,-0.08,-0.16,-0.22,-0.3,-0.33,-0.33,-0.3,-0.2,-0.03,0.03,0.04,0.04,0.04]
]

/*** Layout ***/

const svgWidth = 662
const svgHeight = 520
const plotLeft = 64
const plotRight = 639

const panels = [
  {label: "U", series: [u2, u6, u1, u4, u5, u3], ideal: uIdeal,
   colors: ["#b4b4b4", "#adadad", "#8c8c8c", "#595959", "#484848", "#262626"],
   domain: [-0.8, 0.81], top: 46, bottom: 170.5},
  {label: "V", series: [v1, v3, v6, v5, v2, v4], ideal: vIdeal,
   colors: ["#b0b0b0", "#bababa", "#8c8c8c", "#5a5a5a", "#4d4d4d", "#2a2a2a"],
   domain: [-0.66, 0.76], top: 210, bottom: 335},
  {label: "U\u2297V", series: [uv1, uv4, uv6, uv3, uv5, uv2], ideal: uvIdeal,
   colors: ["#b0b0b0", "#b8b8b8", "#909090", "#5e5e5e", "#4a4a4a", "#222222"],
   domain: [-0.83, 0.655], top: 375, bottom: 500}
]
// ideal curves are listed in the original series order, map them to draw order
const idealOrder = [[1, 5, 0, 3, 4, 2], [0, 2, 5, 4, 1, 3], [0, 3, 5, 2, 4, 1]]

const svg = d3.select("body")
    .append("svg")
    .attr("width", svgWidth)
    .attr("height", svgHeight)
    .style("font-family", "'Liberation Sans', Arial, Helvetica, sans-serif")

// Title
svg.append("text")
    .attr("x", 346)
    .attr("y", 27)
    .attr("text-anchor", "middle")
    .attr("fill", "#000")
    .style("font-size", "28.5px")
    .text("Circular Convolution for 6D Vectors")

let xScale = d3.scaleLinear()
    .domain([0, 1])
    .range([plotLeft, plotRight])

panels.forEach((p, pi) => {
    let yScale = d3.scaleLinear()
        .domain(p.domain)
        .range([p.bottom, p.top])

    let g = svg.append("g")

    g.append("clipPath")
        .attr("id", "clip" + pi)
        .append("rect")
        .attr("x", plotLeft)
        .attr("y", p.top)
        .attr("width", plotRight - plotLeft)
        .attr("height", p.bottom - p.top)

    let plot = g.append("g").attr("clip-path", `url(#clip${pi})`)

    // thin dotted ideal curves
    let idealLine = d3.line()
        .x(d => xScale(d[0]))
        .y(d => yScale(d[1]))
        .curve(d3.curveMonotoneX)

    idealOrder[pi].forEach(k => {
        let pts = p.ideal[k].map((v, i) => [idealTimes[i], v])
        plot.append("path")
            .attr("d", idealLine(pts))
            .attr("fill", "none")
            .attr("stroke", "#3a3a3a")
            .attr("stroke-width", 0.7)
            .attr("stroke-dasharray", "1,1.5")
    })

    // noisy traces
    let traceLine = d3.line()
        .x(d => xScale(d[0]))
        .y(d => yScale(d[1]))

    p.series.forEach((s, k) => {
        let pts = s.map((v, i) => [times[i], v]).filter(d => d[0] !== undefined)
        plot.append("path")
            .attr("d", traceLine(pts))
            .attr("fill", "none")
            .attr("stroke", p.colors[k])
            .attr("stroke-width", 1.25)
            .attr("stroke-linejoin", "round")
    })

    // axes, ticks pointing inward on all sides
    let bottomAxis = d3.axisBottom(xScale)
        .tickValues(xTickValues)
        .tickFormat((d, i) => xTickLabels[i])
        .tickSizeInner(-5)
        .tickSizeOuter(0)
        .tickPadding(5)
    let topAxis = d3.axisTop(xScale)
        .tickValues(xTickValues)
        .tickFormat("")
        .tickSizeInner(-5)
        .tickSizeOuter(0)
    let leftAxis = d3.axisLeft(yScale)
        .tickValues(yTickValues)
        .tickFormat((d, i) => yTickLabels[i])
        .tickSizeInner(-5)
        .tickSizeOuter(0)
        .tickPadding(3)
    let rightAxis = d3.axisRight(yScale)
        .tickValues(yTickValues)
        .tickFormat("")
        .tickSizeInner(-5)
        .tickSizeOuter(0)

    let axes = [
        g.append("g").attr("transform", `translate(0, ${p.bottom})`).call(bottomAxis),
        g.append("g").attr("transform", `translate(0, ${p.top})`).call(topAxis),
        g.append("g").attr("transform", `translate(${plotLeft}, 0)`).call(leftAxis),
        g.append("g").attr("transform", `translate(${plotRight}, 0)`).call(rightAxis)
    ]
    axes.forEach(a => {
        a.select(".domain").remove()
        a.selectAll("line").attr("stroke", "#000")
        a.selectAll("text")
            .attr("fill", "#222")
            .style("font-size", "12.5px")
            .style("font-family", "'Liberation Sans', Arial, Helvetica, sans-serif")
    })

    // frame
    g.append("rect")
        .attr("x", plotLeft)
        .attr("y", p.top)
        .attr("width", plotRight - plotLeft)
        .attr("height", p.bottom - p.top)
        .attr("fill", "none")
        .attr("stroke", "#000")
        .attr("stroke-width", 1.2)

    // y label
    g.append("text")
        .attr("transform", `translate(24, ${(p.top + p.bottom) / 2}) rotate(-90)`)
        .attr("text-anchor", "middle")
        .attr("dy", "0.35em")
        .attr("fill", "#000")
        .style("font-size", "20px")
        .text(p.label)
})
</script>
</body>
</html>
